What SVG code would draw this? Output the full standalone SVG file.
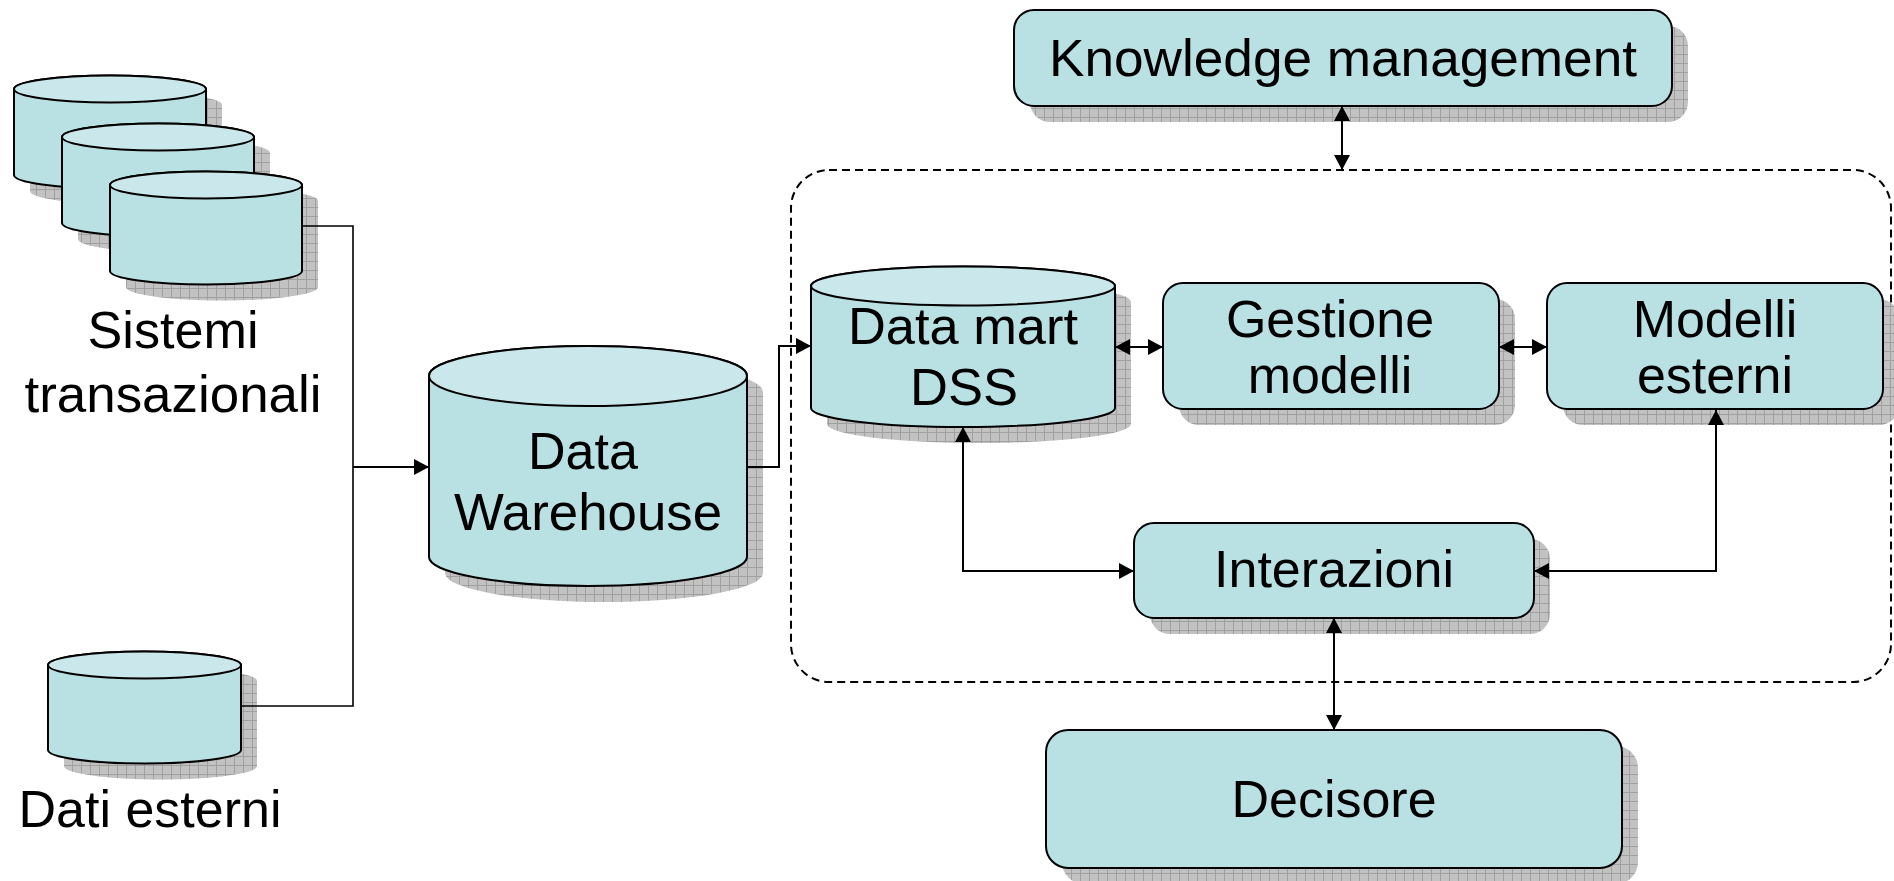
<svg xmlns="http://www.w3.org/2000/svg" width="1894" height="881" viewBox="0 0 1894 881">
  <defs>
    <pattern id="shade" width="9" height="9" patternUnits="userSpaceOnUse">
      <rect width="9" height="9" fill="#c2c2c2"/>
      <path d="M0,0.5 H9 M0.5,0 V9" stroke="#a0a0a0" stroke-width="1" fill="none"/>
    </pattern>
    <marker id="arr" viewBox="0 0 15 16" refX="15" refY="8" markerWidth="15" markerHeight="16" markerUnits="userSpaceOnUse" orient="auto-start-reverse">
      <path d="M0,0 L15,8 L0,16 Z" fill="#000"/>
    </marker>
    <style>
      .body{fill:#b9e0e3;stroke:#000;stroke-width:2}
      .top{fill:#cae8eb;stroke:#000;stroke-width:2}
      .shadow{fill:url(#shade);stroke:none}
      .lbl{font-family:"Liberation Sans",Arial,sans-serif;font-size:52px;text-anchor:middle;fill:#000}
      .conn{fill:none;stroke:#000;stroke-width:2}
      .thin{fill:none;stroke:#000;stroke-width:1.6}
      .frame{fill:none;stroke:#000;stroke-width:2;stroke-dasharray:8 5}
    </style>
  </defs>

  <rect width="1894" height="881" fill="#fff"/>

  <!-- DSS boundary -->
  <rect id="dss-frame" x="791" y="170" width="1100" height="512" rx="38" ry="38" class="frame"/>

  <!-- transactional systems: three stacked cylinders -->
  <g id="sistemi-transazionali">
    <path class="shadow" d="M30,105 A96,13.5 0 0 1 222,105 V191 A96,13.5 0 0 1 30,191 Z"/>
    <path class="body" d="M14,89 A96,13.5 0 0 1 206,89 V175 A96,13.5 0 0 1 14,175 Z"/>
    <ellipse class="top" cx="110" cy="89" rx="96" ry="13.5"/>
    <path class="shadow" d="M78,153 A96,13.5 0 0 1 270,153 V239 A96,13.5 0 0 1 78,239 Z"/>
    <path class="body" d="M62,137 A96,13.5 0 0 1 254,137 V223 A96,13.5 0 0 1 62,223 Z"/>
    <ellipse class="top" cx="158" cy="137" rx="96" ry="13.5"/>
    <path class="shadow" d="M126,201 A96,13.5 0 0 1 318,201 V287 A96,13.5 0 0 1 126,287 Z"/>
    <path class="body" d="M110,185 A96,13.5 0 0 1 302,185 V271 A96,13.5 0 0 1 110,271 Z"/>
    <ellipse class="top" cx="206" cy="185" rx="96" ry="13.5"/>
    <text class="lbl" x="173" y="348" font-size="50" textLength="171" lengthAdjust="spacingAndGlyphs">Sistemi</text>
    <text class="lbl" x="173" y="412" font-size="50" textLength="297" lengthAdjust="spacingAndGlyphs">transazionali</text>
  </g>

  <!-- external data -->
  <g id="dati-esterni">
    <path class="shadow" d="M64,681 A96.5,13.5 0 0 1 257,681 V766 A96.5,13.5 0 0 1 64,766 Z"/>
    <path class="body" d="M48,665 A96.5,13.5 0 0 1 241,665 V750 A96.5,13.5 0 0 1 48,750 Z"/>
    <ellipse class="top" cx="144.5" cy="665" rx="96.5" ry="13.5"/>
    <text class="lbl" x="150" y="827">Dati esterni</text>
  </g>

  <!-- data warehouse -->
  <g id="data-warehouse">
    <path class="shadow" d="M445,392 A159,30 0 0 1 763,392 V573 A159,29 0 0 1 445,573 Z"/>
    <path class="body" d="M429,376 A159,30 0 0 1 747,376 V557 A159,29 0 0 1 429,557 Z"/>
    <ellipse class="top" cx="588" cy="376" rx="159" ry="30"/>
    <text class="lbl" x="583" y="469" font-size="50" textLength="110" lengthAdjust="spacingAndGlyphs">Data</text>
    <text class="lbl" x="588" y="530" font-size="50" textLength="268" lengthAdjust="spacingAndGlyphs">Warehouse</text>
  </g>

  <!-- DSS data mart -->
  <g id="data-mart">
    <path class="shadow" d="M827,302 A152,19.5 0 0 1 1131,302 V424 A152,19 0 0 1 827,424 Z"/>
    <path class="body" d="M811,286 A152,19.5 0 0 1 1115,286 V408 A152,19 0 0 1 811,408 Z"/>
    <ellipse class="top" cx="963" cy="286" rx="152" ry="19.5"/>
    <text class="lbl" x="963" y="344" font-size="49" textLength="230" lengthAdjust="spacingAndGlyphs">Data mart</text>
    <text class="lbl" x="964" y="405" font-size="49" textLength="108" lengthAdjust="spacingAndGlyphs">DSS</text>
  </g>

  <g id="knowledge-management">
    <rect class="shadow" x="1030" y="26" width="658" height="96" rx="20"/>
    <rect class="body" x="1014" y="10" width="658" height="96" rx="20"/>
    <text class="lbl" x="1343" y="76" font-size="56" textLength="588" lengthAdjust="spacingAndGlyphs">Knowledge management</text>
  </g>

  <g id="gestione-modelli">
    <rect class="shadow" x="1179" y="299" width="336" height="126" rx="20"/>
    <rect class="body" x="1163" y="283" width="336" height="126" rx="20"/>
    <text class="lbl" x="1330" y="337">Gestione</text>
    <text class="lbl" x="1330" y="393">modelli</text>
  </g>

  <g id="modelli-esterni">
    <rect class="shadow" x="1563" y="299" width="336" height="126" rx="20"/>
    <rect class="body" x="1547" y="283" width="336" height="126" rx="20"/>
    <text class="lbl" x="1715" y="337">Modelli</text>
    <text class="lbl" x="1715" y="393">esterni</text>
  </g>

  <g id="interazioni">
    <rect class="shadow" x="1150" y="539" width="400" height="95" rx="20"/>
    <rect class="body" x="1134" y="523" width="400" height="95" rx="20"/>
    <text class="lbl" x="1334" y="587">Interazioni</text>
  </g>

  <g id="decisore">
    <rect class="shadow" x="1062" y="746" width="576" height="138" rx="22"/>
    <rect class="body" x="1046" y="730" width="576" height="138" rx="22"/>
    <text class="lbl" x="1334" y="817">Decisore</text>
  </g>

  <!-- connectors -->
  <g id="connectors">
    <path class="thin" d="M302,226 H353 V467"/>
    <path class="thin" d="M241,706 H353 V467"/>
    <path class="conn" d="M353,467 H429" marker-end="url(#arr)"/>
    <path class="conn" d="M747,467 H779 V346 H811" marker-end="url(#arr)"/>
    <path class="conn" d="M1115,347 H1163" marker-start="url(#arr)" marker-end="url(#arr)"/>
    <path class="conn" d="M1499,347 H1547" marker-start="url(#arr)" marker-end="url(#arr)"/>
    <path class="conn" d="M1342,106 V170" marker-start="url(#arr)" marker-end="url(#arr)"/>
    <path class="conn" d="M963,427 V571 H1134" marker-start="url(#arr)" marker-end="url(#arr)"/>
    <path class="conn" d="M1716,410 V571 H1534" marker-start="url(#arr)" marker-end="url(#arr)"/>
    <path class="conn" d="M1334,618 V730" marker-start="url(#arr)" marker-end="url(#arr)"/>
  </g>
</svg>
